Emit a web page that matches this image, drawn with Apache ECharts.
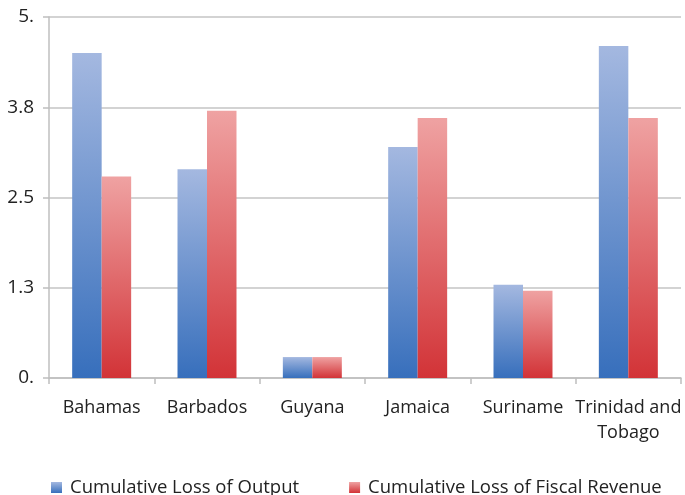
<!DOCTYPE html>
<html>
<head>
<meta charset="utf-8">
<script src="https://cdn.jsdelivr.net/npm/echarts@6/dist/echarts.min.js"></script>
<style>
  html, body { margin: 0; padding: 0; background: #ffffff; }
  #chart { width: 685px; height: 495px; }
</style>
</head>
<body>
<div id="chart"></div>
<script>
// Countries shown along the category axis
const countries = ['Bahamas', 'Barbados', 'Guyana', 'Jamaica', 'Suriname', 'Trinidad and\nTobago'];
// Cumulative losses per country
const outputLoss = [4.50, 2.89, 0.29, 3.20, 1.29, 4.60];
const fiscalLoss = [2.79, 3.70, 0.29, 3.60, 1.21, 3.60];
// Value axis tick labels (0 to 5 in steps of 1.25)
const yTickLabels = ['0.', '1.3', '2.5', '3.8', '5.'];

const FONT = 'Open Sans';

function vGrad(top, bottom) {
  return new echarts.graphic.LinearGradient(0, 0, 0, 1, [
    { offset: 0, color: top },
    { offset: 1, color: bottom }
  ]);
}

const chart = echarts.init(document.getElementById('chart'), null, { renderer: 'canvas' });
chart.setOption({
  animation: false,
  backgroundColor: '#ffffff',
  textStyle: { fontFamily: FONT },
  grid: { left: 49, right: 4, top: 17, bottom: 117, containLabel: false },
  legend: {
    left: 46,
    top: 473,
    itemWidth: 11,
    itemHeight: 11,
    itemGap: 50,
    icon: 'rect',
    textStyle: { fontFamily: FONT, fontSize: 18.5, color: '#222222', padding: [0, 0, 0, 3] },
    data: ['Cumulative Loss of Output', 'Cumulative Loss of Fiscal Revenue']
  },
  xAxis: {
    type: 'category',
    data: countries,
    axisLine: { lineStyle: { color: '#bfbfbf', width: 1.5 } },
    axisTick: { show: true, length: 6, lineStyle: { color: '#bfbfbf', width: 1.5 } },
    axisLabel: { fontFamily: FONT, fontSize: 18, color: '#222222', margin: 17, lineHeight: 25, interval: 0 }
  },
  yAxis: {
    type: 'value',
    min: 0,
    max: 5,
    interval: 1.25,
    axisLine: { show: true, lineStyle: { color: '#bfbfbf', width: 1.5 } },
    axisTick: { show: true, length: 6, lineStyle: { color: '#bfbfbf', width: 1.5 } },
    splitLine: { show: true, lineStyle: { color: '#c4c4c4', width: 1.5 } },
    axisLabel: {
      fontFamily: FONT, fontSize: 19, color: '#222222', margin: 15,
      formatter: function (v, i) { return yTickLabels[i]; }
    }
  },
  series: [
    {
      name: 'Cumulative Loss of Output',
      type: 'bar',
      data: outputLoss,
      barGap: '0%',
      barCategoryGap: '44%',
      itemStyle: { color: vGrad('#a4b8e0', '#376fbc') }
    },
    {
      name: 'Cumulative Loss of Fiscal Revenue',
      type: 'bar',
      data: fiscalLoss,
      barGap: '0%',
      barCategoryGap: '44%',
      itemStyle: { color: vGrad('#efa2a2', '#d23337') }
    }
  ]
});
</script>
</body>
</html>
